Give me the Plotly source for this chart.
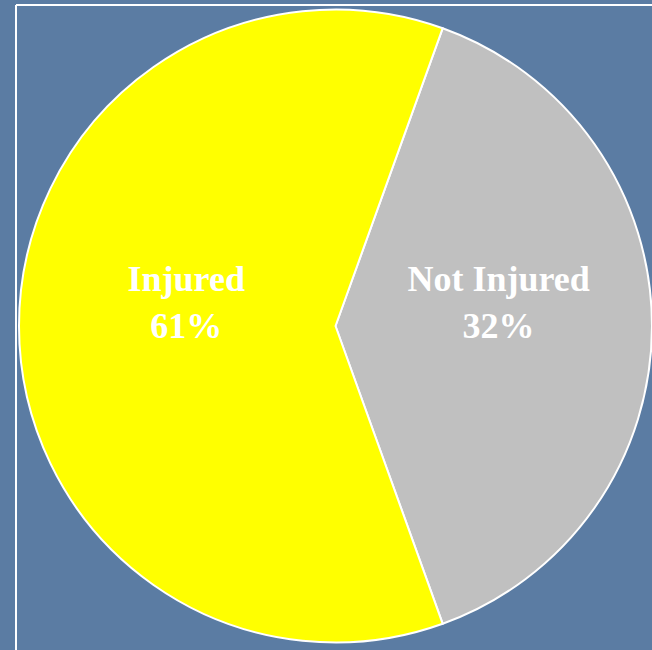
import plotly.graph_objects as go

# Data
labels = ["Not Injured", "Injured"]
slice_values = [39, 61]          # share of the pie as drawn
shown_percent = ["32%", "61%"]   # percentages printed on the slices
slice_colors = ["#c0c0c0", "#ffff00"]

W, H = 652, 650
L, R, T, B = 19, 0, 5, 3
BG = "#5b7ca3"

fig = go.Figure(go.Pie(
    labels=labels,
    values=slice_values,
    text=shown_percent,
    texttemplate=[
        "<b>%{label}<br>%{text}</b><br> ",
        "<b>&nbsp;&nbsp;%{label}<br>&nbsp;&nbsp;%{text}</b><br> ",
    ],
    textposition="inside",
    insidetextorientation="horizontal",
    textfont=dict(family="Liberation Serif, Times New Roman, serif", size=36, color="white"),
    marker=dict(colors=slice_colors, line=dict(color="white", width=2)),
    sort=False,
    direction="clockwise",
    rotation=19.8,
    showlegend=False,
    hoverinfo="label+text",
))

pw, ph = W - L - R, H - T - B
def px_x(x):
    return (x - L) / pw
def px_y(y):
    return 1 - (y - T) / ph

fig.update_layout(
    width=W, height=H,
    margin=dict(l=L, r=R, t=T, b=B),
    paper_bgcolor=BG,
    plot_bgcolor=BG,
    uniformtext=dict(minsize=10, mode="show"),
    shapes=[
        dict(type="line", xref="paper", yref="paper",
             x0=px_x(16), x1=px_x(16), y0=px_y(5), y1=px_y(H),
             line=dict(color="white", width=2), layer="below"),
        dict(type="line", xref="paper", yref="paper",
             x0=px_x(16), x1=px_x(W), y0=px_y(5), y1=px_y(5),
             line=dict(color="white", width=2), layer="below"),
    ],
)

fig.write_html(
    "out.html",
    config={"displayModeBar": False},
    post_script="document.body.style.margin='0';document.body.style.background='%s';" % BG,
)
